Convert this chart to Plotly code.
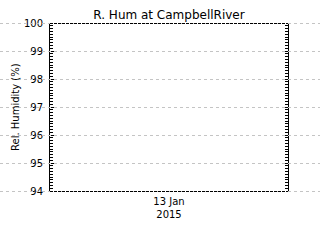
import plotly.graph_objects as go

# Data (empty series: no humidity observations shown)
times = []
humidity = []
y_ticks = [94, 95, 96, 97, 98, 99, 100]
x_tick_vals = ["2015-01-13"]
x_tick_text = ["13 Jan<br>2015"]
x_range = ["2015-01-12 12:00", "2015-01-13 12:00"]
y_range = [94, 100]
title_text = "R. Hum at CampbellRiver"
y_title = "Rel. Humidity (%)"

W, H = 320, 240
L, R, T, B = 50, 32, 23, 49
pw = W - L - R
ph = H - T - B
half = 0.5 / ph

fig = go.Figure()
fig.add_trace(go.Scatter(x=times, y=humidity, mode="lines", line=dict(color="black")))

font = dict(family="DejaVu Sans", size=10, color="black")

shapes = []
# full-width dotted gridlines
for v in y_ticks:
    frac = (v - y_range[0]) / (y_range[1] - y_range[0]) - half
    shapes.append(dict(type="line", xref="paper", yref="paper", x0=-L / pw, x1=1 + R / pw,
                       y0=frac, y1=frac, line=dict(color="#c4c4c4", width=1, dash="dot"),
                       layer="above"))
# frame: dashed top/bottom
shapes.append(dict(type="line", xref="paper", yref="paper", x0=0, x1=1, y0=1 - half, y1=1 - half,
                   line=dict(color="black", width=1, dash="3px,1px"), layer="above"))
shapes.append(dict(type="line", xref="paper", yref="paper", x0=0, x1=1, y0=-half, y1=-half,
                   line=dict(color="black", width=1, dash="3px,1px"), layer="above"))

fig.update_layout(
    width=W, height=H,
    margin=dict(l=L, r=R, t=T, b=B),
    paper_bgcolor="white", plot_bgcolor="rgba(0,0,0,0)",
    showlegend=False,
    font=font,
    shapes=shapes,
    title=dict(text=title_text, x=(L + pw / 2) / W, xanchor="center", y=1 - 15 / H, yanchor="middle",
               font=dict(family="DejaVu Sans", size=12, color="black")),
    annotations=[dict(text=y_title, xref="paper", yref="paper", x=(15 - L) / pw, y=0.5,
                      textangle=-90, showarrow=False, font=font, xanchor="center", yanchor="middle")],
)
fig.update_xaxes(type="date", range=x_range, tickvals=x_tick_vals, ticktext=x_tick_text,
                 showgrid=False, zeroline=False, showline=False, ticks="", tickfont=font,
                 ticklabelstandoff=3)
fig.update_yaxes(range=y_range, tickvals=y_ticks, showgrid=False, zeroline=False,
                 showline=True, linecolor="black", linewidth=1, mirror="ticks",
                 ticks="inside", ticklen=5, tickcolor="black", tickwidth=1, tickfont=font,
                 ticklabelstandoff=4,
                 minor=dict(dtick=0.1, ticks="inside", ticklen=3, tickcolor="black", tickwidth=1))

fig.write_html("out.html")
